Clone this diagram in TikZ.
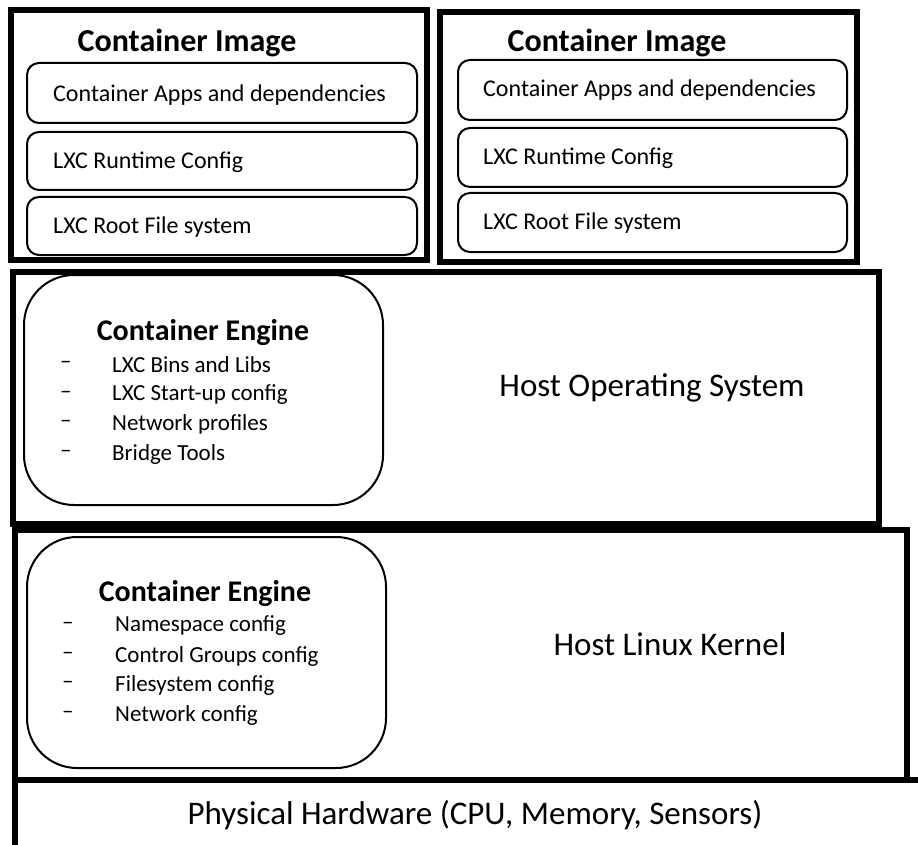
\documentclass[tikz,border=0pt]{standalone}
\usepackage{fontspec}
\setmainfont{Carlito}
\usetikzlibrary{positioning}

\tikzset{
  outerbox/.style={draw, line width=6pt},
  layerbox/.style={draw, line width=2pt, rounded corners=12pt},
  engbox/.style={draw, line width=2pt, rounded corners=50pt},
  titletext/.style={font=\fontsize{32}{35}\selectfont\bfseries},
  enginetext/.style={font=\fontsize{30}{33}\selectfont\bfseries},
  boxtext/.style={font=\fontsize{24}{27}\selectfont, anchor=west, inner sep=0pt},
  itemtext/.style={font=\fontsize{23}{26}\selectfont, anchor=west, inner sep=0pt},
  bigtext/.style={font=\fontsize{33}{36}\selectfont}
}

\begin{document}
\begin{tikzpicture}[x=1pt, y=-1pt]
    \useasboundingbox (0,0) rectangle (918,845);

    % Left container image
    \draw[outerbox] (10.5,10) rectangle (426.5,260);
    \node[titletext] (imgLtitle) at (187,43) {Container Image};
    \draw[layerbox] (27,63) rectangle (417,123);
    \draw[layerbox] (27,132) rectangle (417,190);
    \draw[layerbox] (27,197) rectangle (417,255);
    \node[boxtext] (imgLapps) at (53,95) {Container Apps and dependencies};
    \node[boxtext] (imgLrun) at (53,162) {LXC Runtime Config};
    \node[boxtext] (imgLroot) at (53,227) {LXC Root File system};

    % Right container image
    \draw[outerbox] (440,12) rectangle (857,262);
    \node[titletext] (imgRtitle) at (617,43) {Container Image};
    \draw[layerbox] (458,60) rectangle (847,120);
    \draw[layerbox] (458,128) rectangle (847,187);
    \draw[layerbox] (458,193) rectangle (847,252);
    \node[boxtext] (imgRapps) at (483,90) {Container Apps and dependencies};
    \node[boxtext] (imgRrun) at (483,158) {LXC Runtime Config};
    \node[boxtext] (imgRroot) at (483,223) {LXC Root File system};

    % Host operating system
    \draw[outerbox] (12.5,272) rectangle (878.5,524);
    \draw[engbox] (24,275) rectangle (383,505);
    \node[enginetext] (osEngine) at (203,333) {Container Engine};
    \foreach \y/\txt in {365/LXC Bins and Libs, 395/LXC Start-up config,
                         424/Network profiles, 454/Bridge Tools} {
        \node[itemtext] at (60,\y) {--};
        \node[itemtext] at (112,\y) {\txt};
    }
    \node[bigtext] (hostOS) at (652,388) {Host Operating System};

    % Host linux kernel
    \draw[outerbox] (14.5,529.5) rectangle (906.5,780);
    \draw[engbox] (27,537) rectangle (386,768);
    \node[enginetext] (kernEngine) at (205,594) {Container Engine};
    \foreach \y/\txt in {626/Namespace config, 656/Control Groups config,
                         685/Filesystem config, 715/Network config} {
        \node[itemtext] at (62,\y) {--};
        \node[itemtext] at (115,\y) {\txt};
    }
    \node[bigtext] (hostKernel) at (670,644) {Host Linux Kernel};

    % Physical hardware
    \draw[line width=6pt] (14.5,860) -- (14.5,780) -- (930,780);
    \node[bigtext] (hardware) at (475,815) {Physical Hardware (CPU, Memory, Sensors)};
\end{tikzpicture}
\end{document}
